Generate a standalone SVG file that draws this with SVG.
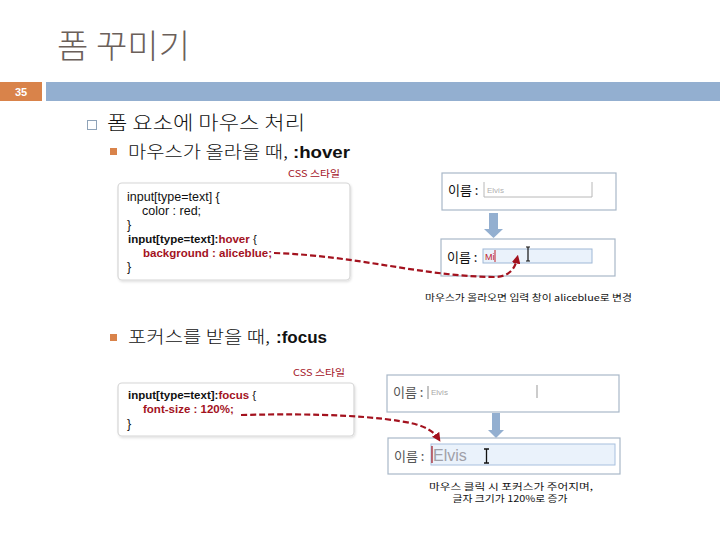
<svg xmlns="http://www.w3.org/2000/svg" width="720" height="540" viewBox="0 0 720 540">
<defs>
<style>
.kr{font-family:"Noto Sans CJK KR","Liberation Sans",sans-serif;}
.code{font-family:"Liberation Sans","Noto Sans CJK KR",sans-serif;font-size:12.5px;fill:#111;}
.cb{font-family:"Liberation Sans","Noto Sans CJK KR",sans-serif;font-size:11.5px;font-weight:bold;fill:#111;}
.red{fill:#a3121e;}
.codebox{fill:#fff;stroke:#d6d6d6;stroke-width:1.2;}
.shot{fill:#fff;stroke:#a9b8c8;stroke-width:1.2;}
.blue{fill:#93afd0;}
.dash{fill:none;stroke:#a3121e;stroke-width:2.2;stroke-dasharray:6 3;}
.cap{font-family:"Noto Sans CJK KR","Liberation Sans",sans-serif;font-size:9px;fill:#111;}
</style>
<marker id="ah" viewBox="0 0 10 10" refX="5" refY="5" markerWidth="4" markerHeight="4" orient="auto" markerUnits="strokeWidth">
<path d="M0,0 L10,5 L0,10 z" fill="#a3121e"/>
</marker>
<filter id="sh" x="-5%" y="-5%" width="110%" height="115%">
<feDropShadow dx="1" dy="1.5" stdDeviation="1.2" flood-color="#000" flood-opacity="0.12"/>
</filter>
</defs>
<rect width="720" height="540" fill="#fff"/>

<g id="title">
<text x="57" y="58" class="kr" font-size="33" font-weight="300" fill="#6b605a" textLength="133" lengthAdjust="spacingAndGlyphs">폼 꾸미기</text>
</g>
<g id="slidebar">
<rect x="0" y="82" width="42" height="19" fill="#d9834a"/>
<text x="21" y="96" font-family="Liberation Sans,sans-serif" font-size="11" font-weight="bold" fill="#fff" text-anchor="middle">35</text>
<rect x="46" y="82" width="674" height="19" fill="#93afd0"/>
</g>

<g id="heading">
<rect x="87.5" y="120.5" width="9" height="9" fill="none" stroke="#8fa3b8" stroke-width="1"/>
<text x="107" y="130" class="kr" font-size="19" font-weight="300" fill="#111" textLength="198" lengthAdjust="spacingAndGlyphs">폼 요소에 마우스 처리</text>
</g>

<g id="bullet-hover">
<rect x="110" y="148" width="7" height="7" fill="#d9834a"/>
<text x="128" y="158" class="kr" font-size="16.5" font-weight="300" fill="#111" textLength="160" lengthAdjust="spacingAndGlyphs">마우스가 올라올 때,</text>
<text x="293" y="158" font-family="Liberation Sans,sans-serif" font-size="16.5" font-weight="bold" fill="#111" textLength="57" lengthAdjust="spacingAndGlyphs">:hover</text>
</g>

<g id="css-label-1">
<text x="288" y="177" class="kr" font-size="9.5" fill="#a3121e" textLength="52" lengthAdjust="spacingAndGlyphs">CSS 스타일</text>
</g>

<g id="codebox-1">
<rect x="118" y="183" width="232" height="97" rx="4" class="codebox" filter="url(#sh)"/>
<text x="127" y="201" class="code">input[type=text] {</text>
<text x="142" y="215" class="code">color : red;</text>
<text x="127" y="229" class="code">}</text>
<text x="128" y="243" class="cb">input[type=text]:<tspan class="red">hover</tspan><tspan font-weight="normal"> {</tspan></text>
<text x="143" y="257" class="cb red">background : aliceblue;</text>
<text x="127" y="271" class="code">}</text>
</g>

<g id="screenshot-1">
<rect x="442" y="173" width="174" height="37" class="shot"/>
<text x="448" y="195" class="kr" font-size="13" fill="#111">이름 :</text>
<polyline points="484,182 484,197 592,197 592,182" fill="none" stroke="#b8b8b8" stroke-width="1"/>
<text x="487" y="193" font-family="Liberation Sans,sans-serif" font-size="8" fill="#b0b0b0">Elvis</text>
</g>

<g id="down-arrow-1">
<rect x="489" y="213" width="9" height="16" class="blue"/>
<polygon points="484,229 503,229 493.5,238" class="blue"/>
</g>

<g id="screenshot-2">
<rect x="441" y="239" width="174" height="37" class="shot"/>
<text x="447" y="262" class="kr" font-size="13" fill="#111">이름 :</text>
<rect x="483" y="249" width="109" height="14" fill="#eaf2fb" stroke="#9fb8d6" stroke-width="1"/>
<text x="485" y="260" font-family="Liberation Sans,sans-serif" font-size="9" fill="#c0202a">Mi</text>
<line x1="495" y1="250" x2="495" y2="262" stroke="#c0202a" stroke-width="1"/>
<path d="M526,247 h4 M528,247 v14 M526,261 h4" stroke="#111" stroke-width="1.2" fill="none"/>
</g>

<g id="caption-1">
<text x="425" y="301" class="cap" textLength="207" lengthAdjust="spacingAndGlyphs">마우스가 올라오면 입력 창이 aliceblue로 변경</text>
</g>

<g id="bullet-focus">
<rect x="110" y="334" width="7" height="7" fill="#d9834a"/>
<text x="128" y="343" class="kr" font-size="16.5" font-weight="300" fill="#111" textLength="142" lengthAdjust="spacingAndGlyphs">포커스를 받을 때,</text>
<text x="276" y="343" font-family="Liberation Sans,sans-serif" font-size="16.5" font-weight="bold" fill="#111" textLength="51" lengthAdjust="spacingAndGlyphs">:focus</text>
</g>

<g id="css-label-2">
<text x="293" y="376" class="kr" font-size="9.5" fill="#a3121e" textLength="52" lengthAdjust="spacingAndGlyphs">CSS 스타일</text>
</g>

<g id="codebox-2">
<rect x="118" y="383" width="236" height="53" rx="4" class="codebox" filter="url(#sh)"/>
<text x="128" y="399" class="cb">input[type=text]:<tspan class="red">focus</tspan><tspan font-weight="normal"> {</tspan></text>
<text x="143" y="413" class="cb red">font-size : 120%;</text>
<text x="127" y="428" class="code">}</text>
</g>

<g id="screenshot-3">
<rect x="387" y="375" width="232" height="37" class="shot"/>
<text x="393" y="397" class="kr" font-size="13" fill="#555">이름 :</text>
<line x1="428" y1="386" x2="428" y2="399" stroke="#888" stroke-width="1"/>
<text x="431" y="395" font-family="Liberation Sans,sans-serif" font-size="8" fill="#a8a8a8">Elvis</text>
<line x1="537" y1="385" x2="537" y2="398" stroke="#999" stroke-width="1"/>
</g>

<g id="down-arrow-2">
<rect x="492" y="413" width="8" height="17" class="blue"/>
<polygon points="488,430 504,430 496,438" class="blue"/>
</g>

<g id="screenshot-4">
<rect x="388" y="438" width="232" height="36" class="shot"/>
<text x="394" y="461" class="kr" font-size="13" fill="#555">이름 :</text>
<rect x="431" y="444" width="184" height="21" fill="#eaf2fb" stroke="#a8c0de" stroke-width="1"/>
<line x1="432" y1="446" x2="432" y2="463" stroke="#a3121e" stroke-width="1.2"/>
<text x="433" y="461" font-family="Liberation Sans,sans-serif" font-size="16" fill="#a0a0a8">Elvis</text>
<path d="M484,449 h5 M486.5,449 v14 M484,463 h5" stroke="#111" stroke-width="1.3" fill="none"/>
</g>

<g id="caption-2">
<text x="511" y="490" class="cap" text-anchor="middle" textLength="164" lengthAdjust="spacingAndGlyphs">마우스 클릭 시 포커스가 주어지며,</text>
<text x="510" y="502" class="cap" text-anchor="middle" textLength="115" lengthAdjust="spacingAndGlyphs">글자 크기가 120%로 증가</text>
</g>

<g id="connectors">
<path class="dash" d="M274,253 C360,256 420,276 494,277 C510,277 515,268 517,259" marker-end="url(#ah)"/>
<path class="dash" d="M241,415 C320,413 380,416 415,424 C428,428 434,432 438,438" marker-end="url(#ah)"/>
</g>
</svg>
